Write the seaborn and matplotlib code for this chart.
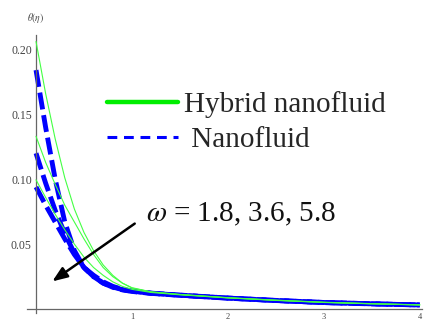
import numpy as np
import pandas as pd
import matplotlib
matplotlib.use("Agg")
import matplotlib.pyplot as plt
from matplotlib.lines import Line2D
from matplotlib.ticker import FixedLocator
import seaborn as sns

sns.set_style("white")
plt.rcParams['font.family'] = ['Liberation Serif', 'DejaVu Serif']
plt.rcParams['mathtext.fontset'] = 'stix'

# ---- data ----
eta = [0.0, 0.1, 0.2, 0.3, 0.4, 0.5, 0.6, 0.7, 0.8, 0.9, 1.0,
       1.2, 1.5, 2.0, 2.5, 3.0, 3.5, 4.0]
omega_values = [1.8, 3.6, 5.8]

hybrid_w18 = [0.206, 0.166, 0.131, 0.101, 0.077, 0.059, 0.045, 0.034, 0.026, 0.020, 0.0165,
              0.0133, 0.0113, 0.0088, 0.0069, 0.0053, 0.0042, 0.0033]
hybrid_w36 = [0.133, 0.113, 0.096, 0.080, 0.067, 0.054, 0.042, 0.032, 0.025, 0.020, 0.0162,
              0.0132, 0.0112, 0.0087, 0.0068, 0.0052, 0.0041, 0.0032]
hybrid_w58 = [0.0995, 0.086, 0.073, 0.061, 0.050, 0.040, 0.032, 0.026, 0.021, 0.0175, 0.0152,
              0.0128, 0.0110, 0.0086, 0.0067, 0.0051, 0.0041, 0.0032]

nano_w18 = [0.184, 0.140, 0.100, 0.067, 0.045, 0.032, 0.026, 0.021, 0.0175, 0.0152, 0.0140,
            0.0123, 0.0108, 0.0085, 0.0067, 0.0051, 0.0041, 0.0032]
nano_w36 = [0.120, 0.097, 0.076, 0.058, 0.043, 0.032, 0.025, 0.020, 0.0170, 0.0150, 0.0138,
            0.0122, 0.0107, 0.0085, 0.0066, 0.0051, 0.0041, 0.0032]
nano_w58 = [0.094, 0.080, 0.067, 0.054, 0.042, 0.032, 0.025, 0.020, 0.0168, 0.0148, 0.0136,
            0.0121, 0.0106, 0.0084, 0.0066, 0.0050, 0.0040, 0.0032]

legend_labels = ["Hybrid nanofluid", " Nanofluid"]
annotation = r"$\omega$ = 1.8, 3.6, 5.8"
y_label = r"$\theta(\eta)$"

rows = []
for w, h, n in zip(omega_values, [hybrid_w18, hybrid_w36, hybrid_w58],
                   [nano_w18, nano_w36, nano_w58]):
    for e, hv, nv in zip(eta, h, n):
        rows.append(dict(eta=e, theta=hv, fluid="hybrid", omega=w))
        rows.append(dict(eta=e, theta=nv, fluid="nano", omega=w))
df = pd.DataFrame(rows)

fig = plt.figure(figsize=(4.33, 3.2), dpi=100)
ax = fig.add_axes([27 / 433, 1 - 313 / 320, (421.7 - 27) / 433, (313 - 35) / 320])

for w in omega_values:
    sub = df[(df.fluid == "nano") & (df.omega == w)]
    sns.lineplot(data=sub, x="eta", y="theta", ax=ax, color="#0000ff", lw=3.5,
                 estimator=None, sort=False, zorder=2,
                 linestyle=(0, (3.5, 1.2)))
for w in omega_values:
    sub = df[(df.fluid == "hybrid") & (df.omega == w)]
    sns.lineplot(data=sub, x="eta", y="theta", ax=ax, color="#44ff44", lw=0.8,
                 estimator=None, sort=False, zorder=3)

ax.set_xlim(-0.094, 4.02)
ax.set_ylim(-0.003, 0.211)
ax.spines['left'].set_position(('data', 0))
ax.spines['bottom'].set_position(('data', 0))
ax.spines['right'].set_visible(False)
ax.spines['top'].set_visible(False)
for s in ['left', 'bottom']:
    ax.spines[s].set_color('#666666')
    ax.spines[s].set_linewidth(0.9)

ax.xaxis.set_major_locator(FixedLocator([1, 2, 3, 4]))
ax.xaxis.set_minor_locator(FixedLocator([v / 5 for v in range(1, 21) if v % 5 != 0]))
ax.yaxis.set_major_locator(FixedLocator([0.05, 0.10, 0.15, 0.20]))
ax.yaxis.set_minor_locator(FixedLocator([v / 100 for v in range(1, 22) if v % 5 != 0]))
ax.set_yticklabels(["0.05", "0.10", "0.15", "0.20"])
ax.tick_params(axis='both', which='both', direction='in', colors='#555555',
               labelcolor='#444444')
ax.tick_params(axis='y', which='major', length=4, width=0.8, labelsize=8.5, pad=3)
ax.tick_params(axis='y', which='minor', length=2.5, width=0.6)
ax.tick_params(axis='x', which='major', length=3.5, width=0.8, labelsize=6, pad=3)
ax.tick_params(axis='x', which='minor', length=2, width=0.6)
ax.set_xlabel("")
ax.set_ylabel("")

fig.text(27 / 433, 1 - 18 / 320, y_label, fontsize=7, color='#444444',
         ha='left', va='center')

handles = [Line2D([], [], color='#00ee00', lw=3.2),
           Line2D([], [], color='#0000ff', lw=2.2, linestyle=(0, (3.2, 2.2)))]
leg = fig.legend(handles, legend_labels, loc='upper left',
                 bbox_to_anchor=(107 / 433, 1 - 91 / 320),
                 bbox_transform=fig.transFigure, frameon=False,
                 fontsize=21, handlelength=2.45, handletextpad=0.2,
                 borderpad=0, borderaxespad=0, labelspacing=0.3)

ax.annotate("", xy=(50, 320 - 283), xycoords='figure pixels',
            xytext=(137, 320 - 222), textcoords='figure pixels',
            arrowprops=dict(arrowstyle='-|>,head_length=0.9,head_width=0.35',
                            color='black', lw=1.8))
fig.text(146 / 433, 1 - 214 / 320, annotation, fontsize=21, ha='left',
         va='center', color='#111111')

fig.savefig("out.png", dpi=100)
